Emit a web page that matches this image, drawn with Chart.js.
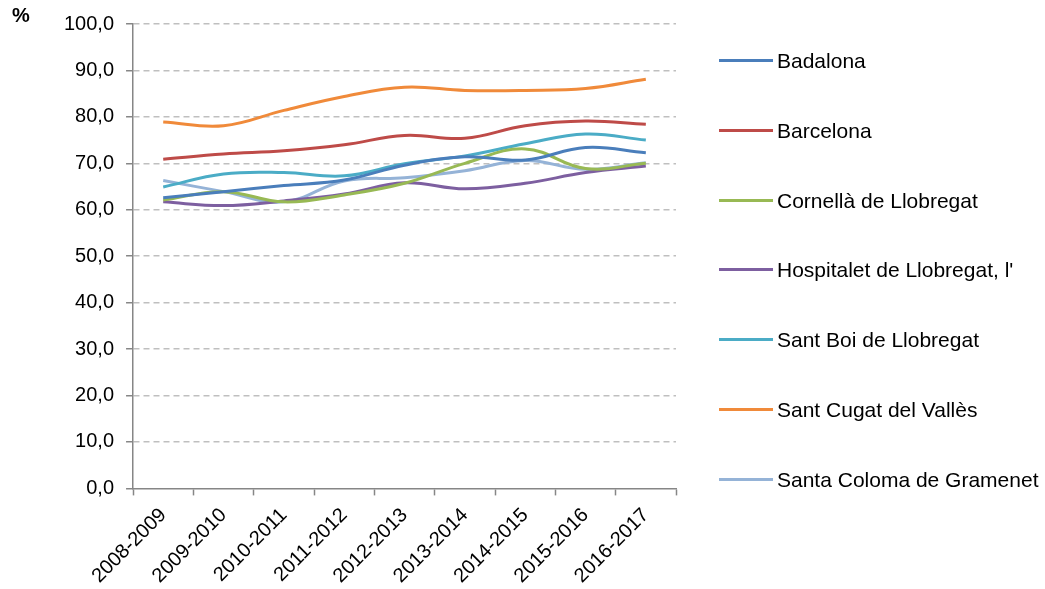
<!DOCTYPE html>
<html>
<head>
<meta charset="utf-8">
<script src="https://cdn.jsdelivr.net/npm/chart.js@4.4.0/dist/chart.umd.min.js"></script>
<style>
  body { margin: 0; background: #fff; }
  #wrap { position: relative; width: 1045px; height: 589px; font-family: "Liberation Sans", Arial, sans-serif; }
  #unit { position: absolute; left: 12px; top: 4px; font-size: 20px; font-weight: bold; color: #000; }
  #legend { position: absolute; left: 719px; top: 0; }
  .item { position: absolute; left: 0; width: 330px; height: 24px; white-space: nowrap; }
  .item .swatch { position: absolute; left: 0; top: 10px; width: 54px; height: 3px; }
  .item .label { position: absolute; left: 58px; top: 0; font-size: 21px; line-height: 24px; color: #000; }
</style>
</head>
<body>
<div id="wrap">
  <canvas id="chart" width="1045" height="589"></canvas>
  <div id="unit">%</div>
  <div id="legend"></div>
</div>
<script>
// Cursos
const cursos = ['2008-2009', '2009-2010', '2010-2011', '2011-2012', '2012-2013',
                '2013-2014', '2014-2015', '2015-2016', '2016-2017'];

// Percentatges per municipi (llegits del gràfic)
const badalona     = [62.6, 63.9, 65.2, 66.4, 69.6, 71.4, 70.7, 73.4, 72.3];
const barcelona    = [70.9, 72.0, 72.7, 74.0, 76.0, 75.4, 78.1, 79.1, 78.4];
const cornella     = [62.1, 63.9, 61.7, 63.2, 65.7, 70.0, 73.1, 68.9, 70.0];
const hospitalet   = [61.7, 60.9, 61.9, 63.4, 65.8, 64.5, 65.7, 68.0, 69.4];
const santBoi      = [64.9, 67.7, 68.0, 67.3, 69.9, 71.6, 74.2, 76.3, 75.0];
const santCugat    = [78.9, 78.1, 81.4, 84.4, 86.4, 85.7, 85.7, 86.1, 88.1];
const santaColoma  = [66.3, 63.9, 61.7, 66.2, 66.9, 68.4, 70.6, 68.7, 70.1];

const municipis = ['Badalona', 'Barcelona', 'Cornellà de Llobregat', "Hospitalet de Llobregat, l'",
                   'Sant Boi de Llobregat', 'Sant Cugat del Vallès', 'Santa Coloma de Gramenet'];
const colors = ['#4A7EBB', '#BE4B48', '#98B954', '#7D5FA0', '#4BACC6', '#F08A3A', '#95B3D7'];
const series = [badalona, barcelona, cornella, hospitalet, santBoi, santCugat, santaColoma];

const yTicks = { min: 0, max: 100, step: 10 };

const datasets = series.map((values, i) => ({
    label: municipis[i],
    data: values,
    borderColor: colors[i],
    backgroundColor: colors[i],
    borderWidth: 3,
    pointRadius: 0,
    tension: 0.4,
    fill: false
}));

const font = { family: '"Liberation Sans", Arial, sans-serif', size: 20 };

new Chart(document.getElementById('chart'), {
    type: 'line',
    data: { labels: cursos, datasets: datasets },
    options: {
        responsive: false,
        animation: false,
        layout: { padding: { left: 52, right: 369, top: 24, bottom: -7 } },
        plugins: {
            legend: { display: false },
            tooltip: { enabled: false }
        },
        scales: {
            x: {
                offset: true,
                grid: {
                    offset: true,
                    drawOnChartArea: false,
                    drawTicks: true,
                    tickLength: 7,
                    tickColor: '#868686',
                    tickWidth: 1.5
                },
                border: { color: '#868686', width: 1.5 },
                ticks: {
                    color: '#000',
                    font: font,
                    maxRotation: 45,
                    minRotation: 45,
                    padding: 8,
                    autoSkip: false
                }
            },
            y: {
                min: yTicks.min,
                max: yTicks.max,
                grid: {
                    color: ctx => ctx.tick.value === 0 ? 'rgba(0,0,0,0)' : '#BFBFBF',
                    lineWidth: 1.5,
                    drawTicks: true,
                    tickLength: 7,
                    tickColor: '#868686',
                    tickWidth: 1.5,
                    tickBorderDash: []
                },
                border: { color: '#868686', width: 1.5, dash: [6, 4] },
                ticks: {
                    stepSize: yTicks.step,
                    color: '#000',
                    font: font,
                    padding: 12,
                    callback: v => v.toFixed(1).replace('.', ',')
                }
            }
        }
    }
});

// Llegenda a la dreta
const legend = document.getElementById('legend');
municipis.forEach((name, i) => {
    const item = document.createElement('div');
    item.className = 'item';
    item.style.top = (49 + i * 69.8) + 'px';
    item.innerHTML = '<div class="swatch" style="background:' + colors[i] + '"></div>' +
                     '<div class="label">' + name + '</div>';
    legend.appendChild(item);
});
</script>
</body>
</html>
